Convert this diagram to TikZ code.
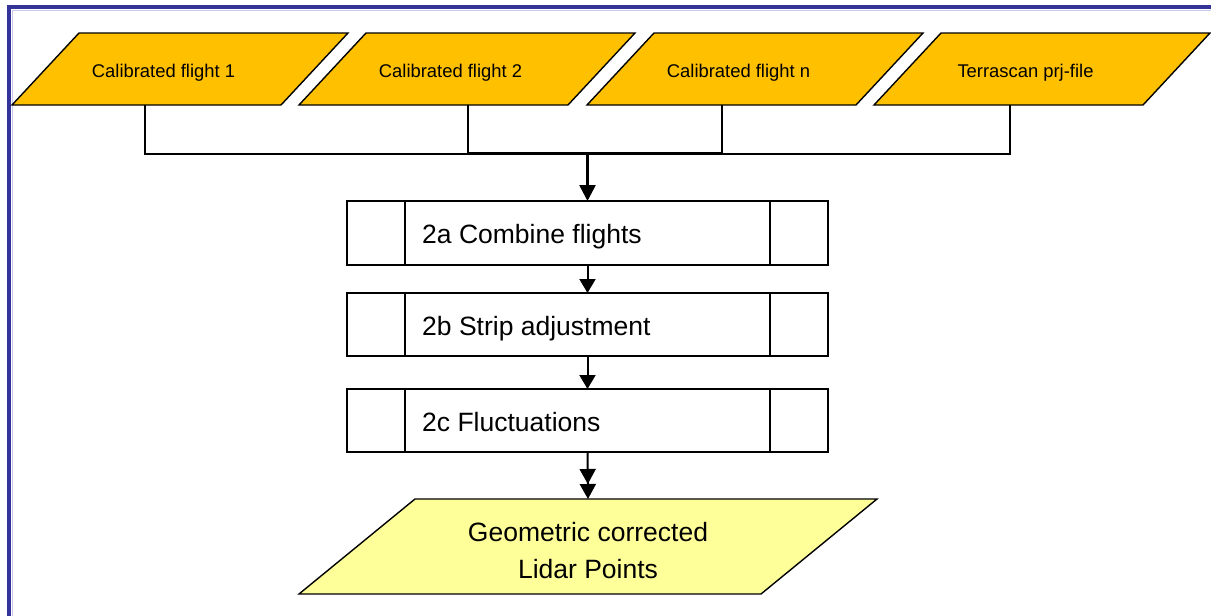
\documentclass[tikz,border=0pt]{standalone}
\usepackage{fontspec}
\setmainfont{Liberation Sans}
\usetikzlibrary{arrows.meta,calc}
\definecolor{frameblue}{HTML}{333399}
\definecolor{framelight}{HTML}{C8C8EC}
\definecolor{inorange}{HTML}{FFC000}
\definecolor{outyellow}{HTML}{FFFF99}
\newcommand\drawpara[3]{\draw[paraline,fill=#3] (#1.south west) -- ([xshift=#2]#1.north west) -- (#1.north east) -- ([xshift=-#2]#1.south east) -- cycle;}
\begin{document}
\begin{tikzpicture}[x=1pt,y=-1pt,
  paraline/.style={draw=black,line width=1.4pt,line join=miter},
  pbox/.style={minimum width=336pt,minimum height=72pt,inner sep=0pt,outer sep=0pt},
  ptext/.style={font=\fontsize{18.4}{22}\selectfont,inner sep=0pt,anchor=base},
  conn/.style={draw=black,line width=1.5pt},
  stepbox/.style={draw=black,line width=1.4pt,inner sep=0pt,
    minimum width=481pt,outer sep=0pt},
  steptext/.style={font=\fontsize{26.5}{30}\selectfont,inner sep=0pt,anchor=base west},
  arr/.style={draw=black,line width=2pt,-{Triangle[length=14pt,width=16pt]}},
]
\useasboundingbox (0,0) rectangle (1211,616);
% frame
\draw[frameblue,line width=4pt] (9,620) -- (9,7) -- (1215,7);
\draw[framelight,line width=1pt] (12,620) -- (12,10) -- (1215,10);
% input parallelograms
\node[pbox] (p1) at (180,69) {};
\node[pbox] (p2) at (467,69) {};
\node[pbox] (p3) at (755,69) {};
\node[pbox] (p4) at (1042,69) {};
\drawpara{p1}{67}{inorange}
\drawpara{p2}{67}{inorange}
\drawpara{p3}{67}{inorange}
\drawpara{p4}{67}{inorange}
\node[ptext] (t1) at ([xshift=-16.5,yshift=-8]p1.center) {Calibrated flight 1};
\node[ptext] (t2) at ([xshift=-16.5,yshift=-8]p2.center) {Calibrated flight 2};
\node[ptext] (t3) at ([xshift=-16.5,yshift=-8]p3.center) {Calibrated flight n};
\node[ptext] (t4) at ([xshift=-16.5,yshift=-8]p4.center) {Terrascan prj-file};
% process boxes
\node[stepbox,minimum height=64pt] (b1) at (587.5,233) {};
\node[stepbox,minimum height=63pt] (b2) at (587.5,324.5) {};
\node[stepbox,minimum height=63pt] (b3) at (587.5,420.5) {};
\node[steptext] (l1) at ([xshift=75,yshift=-10.5]b1.west) {2a Combine flights};
\node[steptext] (l2) at ([xshift=75,yshift=-10.5]b2.west) {2b Strip adjustment};
\node[steptext] (l3) at ([xshift=75,yshift=-10.5]b3.west) {2c Fluctuations};
\foreach \b in {b1,b2,b3}{
  \draw[line width=1.4pt] ([xshift=58]\b.north west) -- ([xshift=58]\b.south west);
  \draw[line width=1.4pt] ([xshift=-58]\b.north east) -- ([xshift=-58]\b.south east);
}
% output parallelogram
\node[minimum width=578pt,minimum height=95pt,inner sep=0pt,outer sep=0pt] (po) at (588,546.5) {};
\drawpara{po}{116}{outyellow}
\node[font=\fontsize{26.5}{37.5}\selectfont,align=center,inner sep=0pt] (to) at (588,550.5) {Geometric corrected\\Lidar Points};
% connectors
\coordinate (busA) at (0,154);
\coordinate (busB) at (0,153);
\coordinate (c1) at ([xshift=-35]p1.south);
\coordinate (c2) at ([xshift=1]p2.south);
\coordinate (c3) at ([xshift=-33]p3.south);
\coordinate (c4) at ([xshift=-32]p4.south);
\draw[conn] (c1) -- (c1 |- busA) -- (c4 |- busA) -- (c4);
\draw[conn] (c2) -- (c2 |- busB) -- (c3 |- busB) -- (c3);
\draw[draw=black,line width=2.6pt,-{Triangle[length=16pt,width=16pt]}] (b1.north |- busB) -- (b1.north);
\draw[arr] (b1.south) -- (b2.north);
\draw[arr] (b2.south) -- (b3.north);
\draw[draw=black,line width=2pt,-{Triangle[length=15pt,width=16pt,sep=0pt] Triangle[length=15pt,width=16pt,sep=0pt]}] (b3.south) -- (po.north);
\end{tikzpicture}
\end{document}
